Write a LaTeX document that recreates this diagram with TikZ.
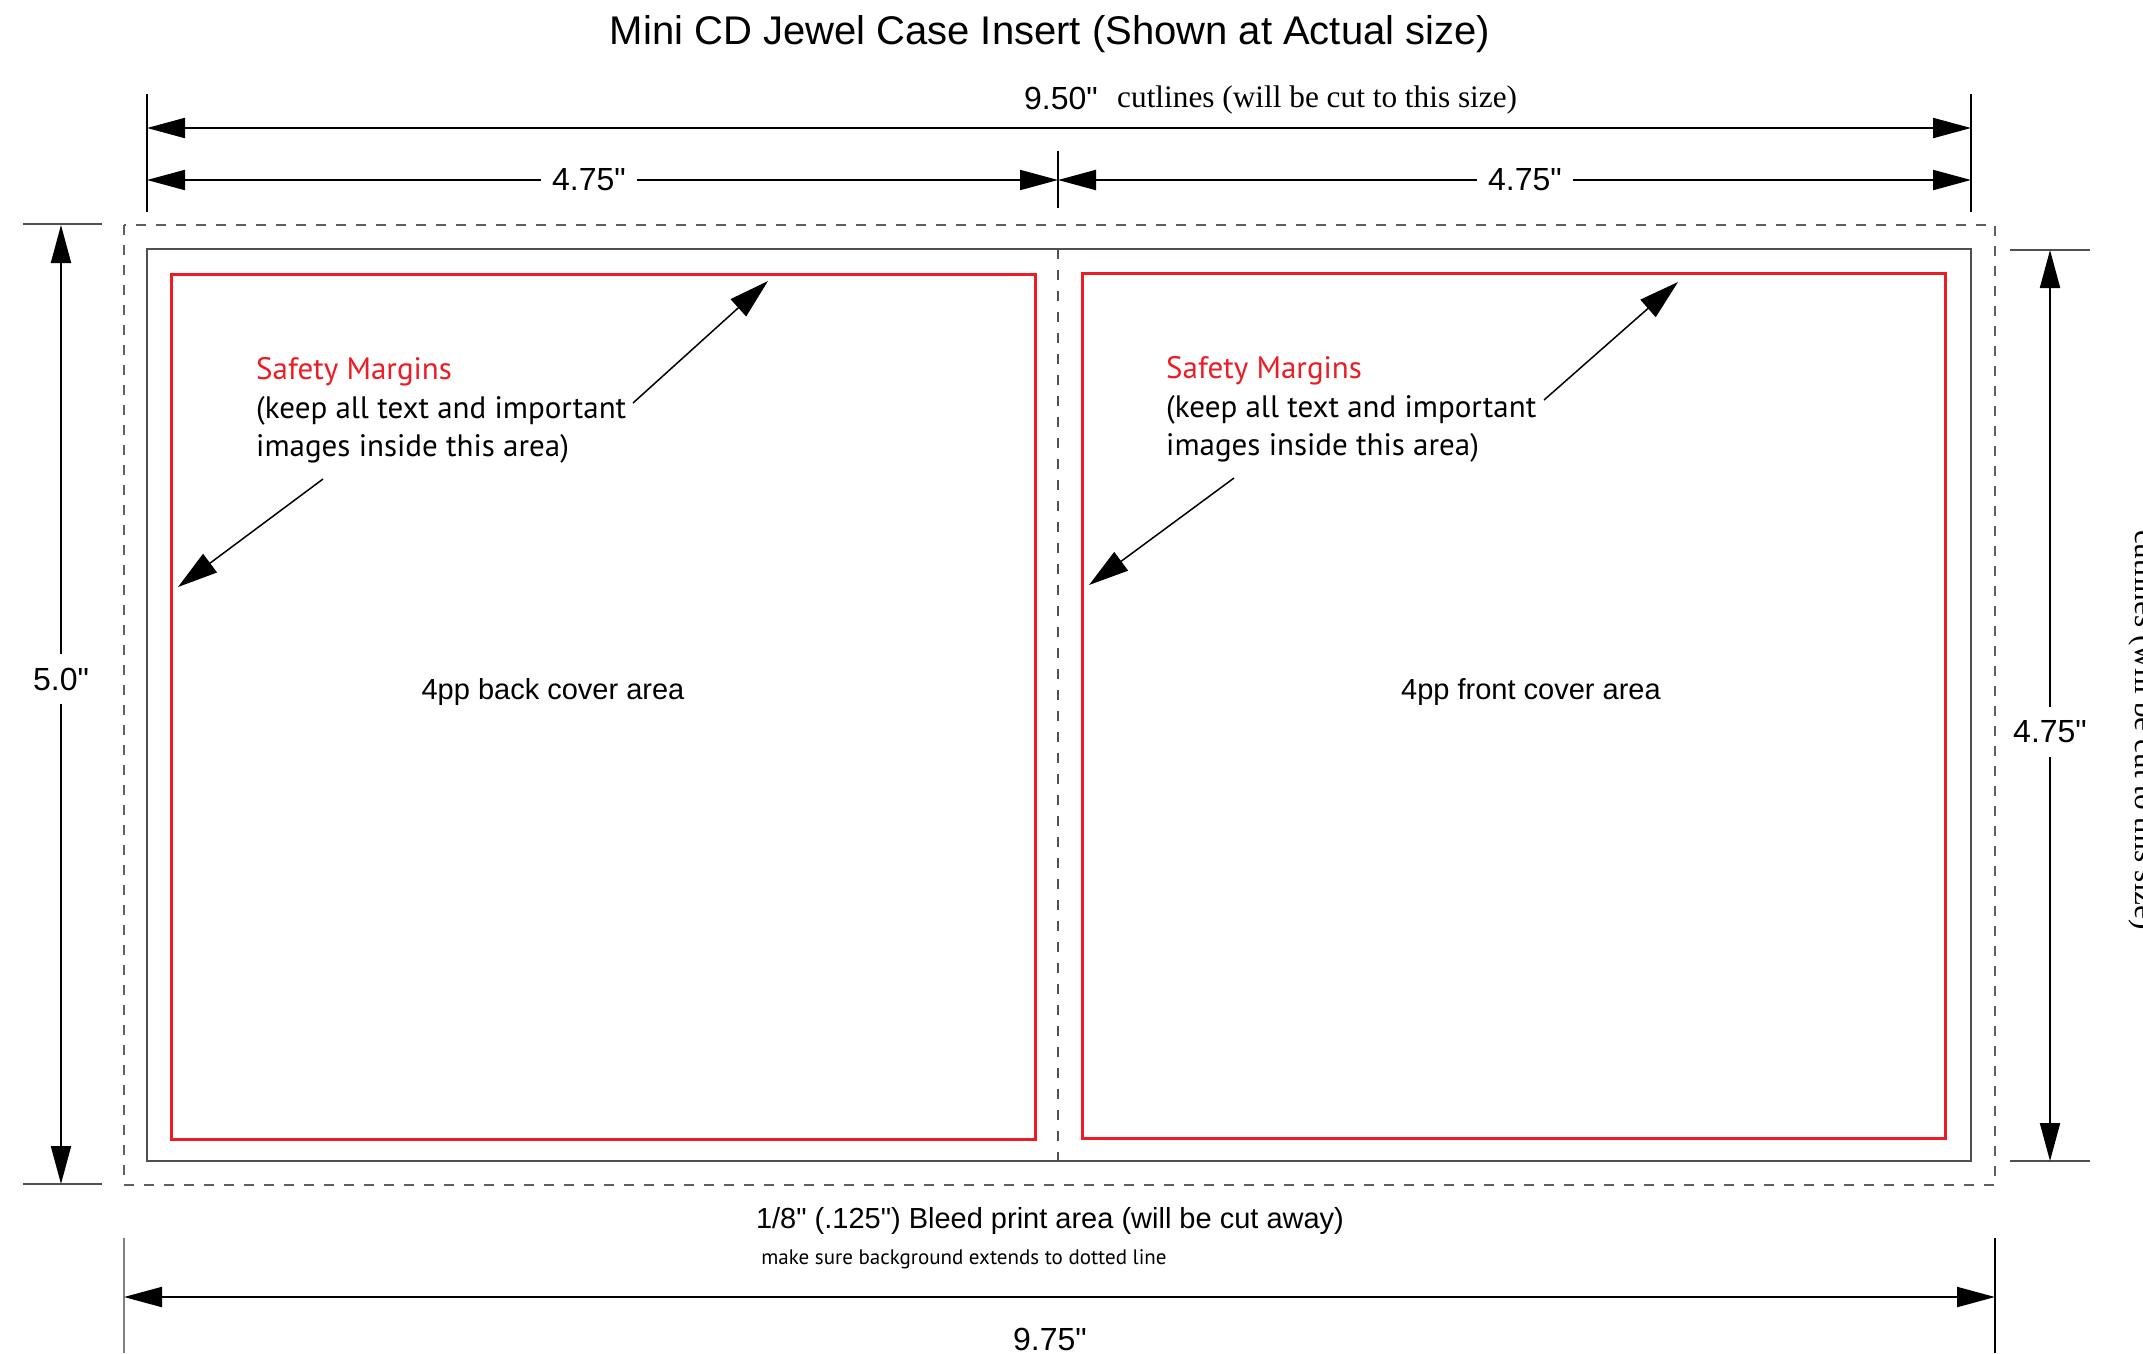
\documentclass[tikz,border=0pt]{standalone}
\usepackage{fontspec}
\setmainfont{Liberation Sans}[Ligatures=TeXOff]
\newfontfamily\cutserif{Liberation Serif}[Ligatures=TeXOff]
\newfontfamily\notesans{PT Sans}
\usetikzlibrary{arrows.meta}
\definecolor{safered}{RGB}{237,28,36}
\definecolor{cutgray}{RGB}{80,80,80}
\definecolor{bleedgray}{RGB}{95,95,95}
\tikzset{
  dim/.style={line width=2pt,{Triangle[length=38pt,width=20pt]}-{Triangle[length=38pt,width=20pt]}},
  dimend/.style={line width=2pt,-{Triangle[length=38pt,width=20pt]}},
  note/.style={line width=1.5pt,-{Triangle[length=40pt,width=23pt]}},
  extline/.style={line width=1.3pt},
  ticks/.style={line width=2pt,cutgray},
  lbl/.style={font=\fontsize{32}{38}\selectfont,inner sep=0pt},
  areatxt/.style={font=\fontsize{29}{34}\selectfont,inner sep=0pt},
  safetxt/.style={font=\notesans\fontsize{31}{38}\selectfont,inner sep=0pt,anchor=base west},
  cuttxt/.style={font=\cutserif\fontsize{31.3}{36}\selectfont,inner sep=0pt},
}
\begin{document}
\begin{tikzpicture}[x=1pt,y=-1pt]
\useasboundingbox (0,0) rectangle (2143,1353);
% title
\node[font=\fontsize{40}{46}\selectfont,inner sep=0pt,anchor=base] (title) at (1050,44) {Mini CD Jewel Case Insert (Shown at Actual size)};

% extension lines, top
\draw[extline] (147,94) -- (147,212);
\draw[extline] (1058,151) -- (1058,208);
\draw[extline] (1971,94) -- (1971,212);

% 9.50 cutlines
\node[lbl,anchor=base] (w950) at (1061,109) {9.50"};
\node[cuttxt,anchor=base west] (cutnote) at (1117,107) {cutlines (will be cut to this size)};
\coordinate (cutA) at (147,128);
\coordinate (cutB) at (1971,128);
\draw[dim] (cutA) -- (cutB);

% 4.75 halves
\coordinate (halfA) at (147,180);
\coordinate (halfB) at (1058,180);
\coordinate (halfC) at (1971,180);
\node[lbl,inner xsep=11pt] (wback) at (589,180) {4.75"};
\node[lbl,inner xsep=11pt] (wfront) at (1525,180) {4.75"};
\draw[dimend] (wback) -- (halfA);
\draw[dimend] (wback) -- (halfB);
\draw[dimend] (wfront) -- (halfB);
\draw[dimend] (wfront) -- (halfC);

% bleed, cut and fold lines
\draw[bleedgray,line width=2pt,dash pattern=on 10pt off 10pt] (124,225) rectangle (1995,1185);
\draw[cutgray,line width=2.5pt] (147,249) rectangle (1971,1161);
\draw[cutgray,line width=2pt,dash pattern=on 10pt off 11pt] (1058,249) -- (1058,1161);

% safety margins
\draw[safered,line width=3pt] (171,274) rectangle (1035,1139);
\draw[safered,line width=3pt] (1082,273) rectangle (1945,1138);

% height 5.0 (bleed)
\draw[ticks] (23,224) -- (102,224);
\draw[ticks] (23,1184) -- (102,1184);
\coordinate (bleedT) at (61,225);
\coordinate (bleedB) at (61,1184);
\node[lbl,inner ysep=13pt] (h50) at (61,679) {5.0"};
\draw[dimend] (h50) -- (bleedT);
\draw[dimend] (h50) -- (bleedB);

% height 4.75 (cut)
\draw[ticks] (2010,250) -- (2090,250);
\draw[ticks] (2010,1161) -- (2090,1161);
\coordinate (heightT) at (2050,250);
\coordinate (heightB) at (2050,1161);
\node[lbl,inner ysep=14pt] (h475) at (2050,732) {4.75"};
\draw[dimend] (h475) -- (heightT);
\draw[dimend] (h475) -- (heightB);
\node[cuttxt,rotate=-90,anchor=base] (cutside) at (2135,730) {cutlines (will be cut to this size)};

% back panel notes
\node[safetxt,text=safered] (safeL) at (256,379) {Safety Margins};
\node[safetxt] (keepL) at (256,418) {(keep all text and important};
\node[safetxt] (imgL) at (256,456) {images inside this area)};
\coordinate (tailL1) at (633,403);
\coordinate (tipL1) at (768,281);
\coordinate (tailL2) at (323,479);
\coordinate (tipL2) at (178,587);
\draw[note] (tailL1) -- (tipL1);
\draw[note] (tailL2) -- (tipL2);
\node[areatxt,anchor=base] (back) at (553,699) {4pp back cover area};

% front panel notes
\node[safetxt,text=safered] (safeR) at (1166,378) {Safety Margins};
\node[safetxt] (keepR) at (1166,417) {(keep all text and important};
\node[safetxt] (imgR) at (1166,455) {images inside this area)};
\coordinate (tailR1) at (1544,400);
\coordinate (tipR1) at (1678,282);
\coordinate (tailR2) at (1234,478);
\coordinate (tipR2) at (1089,585);
\draw[note] (tailR1) -- (tipR1);
\draw[note] (tailR2) -- (tipR2);
\node[areatxt,anchor=base] (front) at (1531,699) {4pp front cover area};

% bleed notes and 9.75 width
\node[areatxt,anchor=base] (bleednote) at (1050,1228) {1/8" (.125") Bleed print area (will be cut away)};
\node[font=\notesans\fontsize{21}{25}\selectfont,inner sep=0pt,anchor=base] (bgnote) at (964,1264) {make sure background extends to dotted line};
\draw[extline,gray] (124,1238) -- (124,1353);
\draw[extline] (1995,1238) -- (1995,1353);
\coordinate (fullA) at (124,1297);
\coordinate (fullB) at (1995,1297);
\draw[dim] (fullA) -- (fullB);
\node[lbl,anchor=base] (w975) at (1050,1350) {9.75"};
\end{tikzpicture}
\end{document}
